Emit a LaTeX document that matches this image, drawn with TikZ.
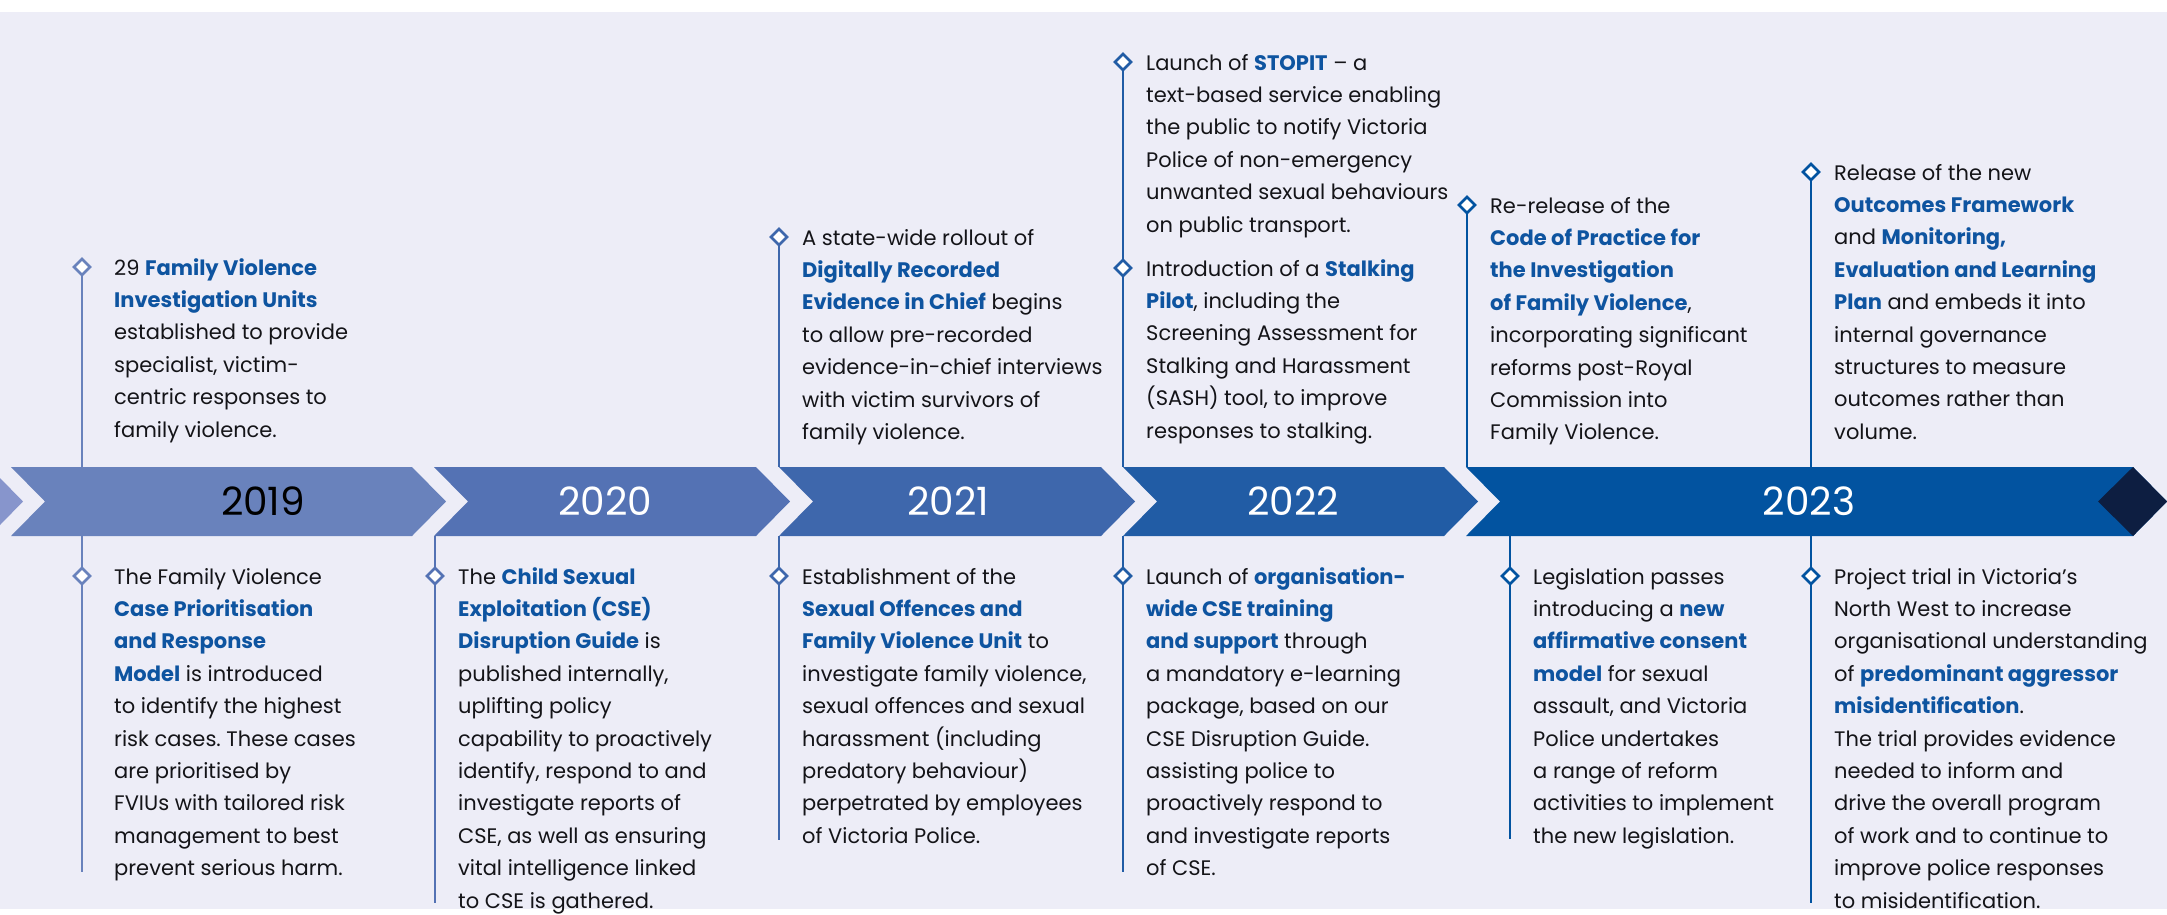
\documentclass[tikz,border=0pt]{standalone}
\usepackage{fontspec}
\setmainfont{Poppins}
\frenchspacing
\usetikzlibrary{shapes.geometric,positioning}

\definecolor{paper}{RGB}{237,237,247}
\definecolor{ink}{RGB}{20,20,24}
\definecolor{keyblue}{RGB}{14,84,160}
\definecolor{c18}{RGB}{135,149,204}
\definecolor{c19}{RGB}{105,130,188}
\definecolor{c20}{RGB}{84,114,180}
\definecolor{c21}{RGB}{62,103,172}
\definecolor{c22}{RGB}{33,92,165}
\definecolor{c23}{RGB}{2,83,160}
\definecolor{navy}{RGB}{13,30,65}

\newcommand{\key}[1]{{\bfseries\color{keyblue}#1}}
\newcommand{\chev}[3]{\fill[#3] (#1,467) -- (#2,467) -- (#2+34,501.5) -- (#2,536) -- (#1,536) -- (#1+34,501.5) -- cycle;}
% name, colour, x, marker y, line from, line to, text shift, text
\newcommand{\event}[8]{%
  \coordinate (#1s) at (#3,#5);
  \coordinate (#1e) at (#3,#6);
  \draw[ln=#2] (#1s) -- (#1e);
  \node[diam=#2] (#1) at (#3,#4) {};
  \node[txt] (#1t) at ([shift={(#7,-14.7)}]#1.center) {\strut#8};}

\tikzset{
  txt/.style={anchor=north west,inner sep=0pt,align=left,text=ink,
    font=\fontsize{21}{32.4}\selectfont},
  yr/.style={font=\fontsize{39}{39}\selectfont,text=white,inner sep=0pt},
  diam/.style={diamond,draw=#1,fill=white,line width=2.6pt,inner sep=0pt,minimum size=17pt},
  ln/.style={draw=#1,line width=2.8pt},
}

\begin{document}
\begin{tikzpicture}[x=1pt,y=-1pt]
    \useasboundingbox (0,0) rectangle (2167,914);
    \fill[white] (0,0) rectangle (2167,914);
    \fill[paper] (0,12) rectangle (2167,909);

    \fill[c18] (0,478) -- (23,501.5) -- (0,525) -- cycle;
    \chev{11}{412}{c19}
    \chev{434}{756}{c20}
    \chev{779}{1101}{c21}
    \chev{1123}{1444}{c22}
    \chev{1466}{2133}{c23}
    \fill[navy] (2098,501.5) -- (2133,467) -- (2167,501.5) -- (2133,536) -- cycle;

    \node[yr,text=black] (y19) at (263,501.5) {2019};
    \node[yr] (y20) at (605,501.5) {2020};
    \node[yr] (y21) at (948,501.5) {2021};
    \node[yr] (y22) at (1293,501.5) {2022};
    \node[yr] (y23) at (1809,501.5) {2023};

    \event{a}{c19}{82}{267}{267}{467}{32}{29 \key{Family Violence}\\\key{Investigation Units}\\established to provide\\specialist, victim-\\centric responses to\\family violence.}
    \event{b}{c19}{82}{576}{536}{872}{32}{The Family Violence\\\key{Case Prioritisation}\\\key{and Response}\\\key{Model} is introduced\\to identify the highest\\risk cases. These cases\\are prioritised by\\FVIUs with tailored risk\\management to best\\prevent serious harm.}
    \event{c}{c20}{435}{576}{536}{903}{23}{The \key{Child Sexual}\\\key{Exploitation (CSE)}\\\key{Disruption Guide} is\\published internally,\\uplifting policy\\capability to proactively\\identify, respond to and\\investigate reports of\\CSE, as well as ensuring\\vital intelligence linked\\to CSE is gathered.}
    \event{d}{c21}{779}{237}{237}{467}{23}{A state-wide rollout of\\\key{Digitally Recorded}\\\key{Evidence in Chief} begins\\to allow pre-recorded\\evidence-in-chief interviews\\with victim survivors of\\family violence.}
    \event{e}{c21}{779}{576}{536}{840}{23}{Establishment of the\\\key{Sexual Offences and}\\\key{Family Violence Unit} to\\investigate family violence,\\sexual offences and sexual\\harassment (including\\predatory behaviour)\\perpetrated by employees\\of Victoria Police.}
    \event{f}{c22}{1123}{62}{62}{467}{23}{Launch of \key{STOPIT} – a\\text-based service enabling\\the public to notify Victoria\\Police of non-emergency\\unwanted sexual behaviours\\on public transport.}
    \event{g}{c22}{1123}{268}{268}{467}{23}{Introduction of a \key{Stalking}\\\key{Pilot}, including the\\Screening Assessment for\\Stalking and Harassment\\(SASH) tool, to improve\\responses to stalking.}
    \event{h}{c22}{1123}{576}{536}{872}{23}{Launch of \key{organisation-}\\\key{wide CSE training}\\\key{and support} through\\a mandatory e-learning\\package, based on our\\CSE Disruption Guide.\\assisting police to\\proactively respond to\\and investigate reports\\of CSE.}
    \event{i}{c23}{1467}{205}{205}{467}{23}{Re-release of the\\\key{Code of Practice for}\\\key{the Investigation}\\\key{of Family Violence},\\incorporating significant\\reforms post-Royal\\Commission into\\Family Violence.}
    \event{j}{c23}{1811}{172}{172}{467}{23}{Release of the new\\\key{Outcomes Framework}\\and \key{Monitoring,}\\\key{Evaluation and Learning}\\\key{Plan} and embeds it into\\internal governance\\structures to measure\\outcomes rather than\\volume.}
    \event{k}{c23}{1510}{576}{536}{839}{23}{Legislation passes\\introducing a \key{new}\\\key{affirmative consent}\\\key{model} for sexual\\assault, and Victoria\\Police undertakes\\a range of reform\\activities to implement\\the new legislation.}
    \event{l}{c23}{1811}{576}{536}{903}{23}{Project trial in Victoria’s\\North West to increase\\organisational understanding\\of \key{predominant aggressor}\\\key{misidentification}.\\The trial provides evidence\\needed to inform and\\drive the overall program\\of work and to continue to\\improve police responses\\to misidentification.}
\end{tikzpicture}
\end{document}
